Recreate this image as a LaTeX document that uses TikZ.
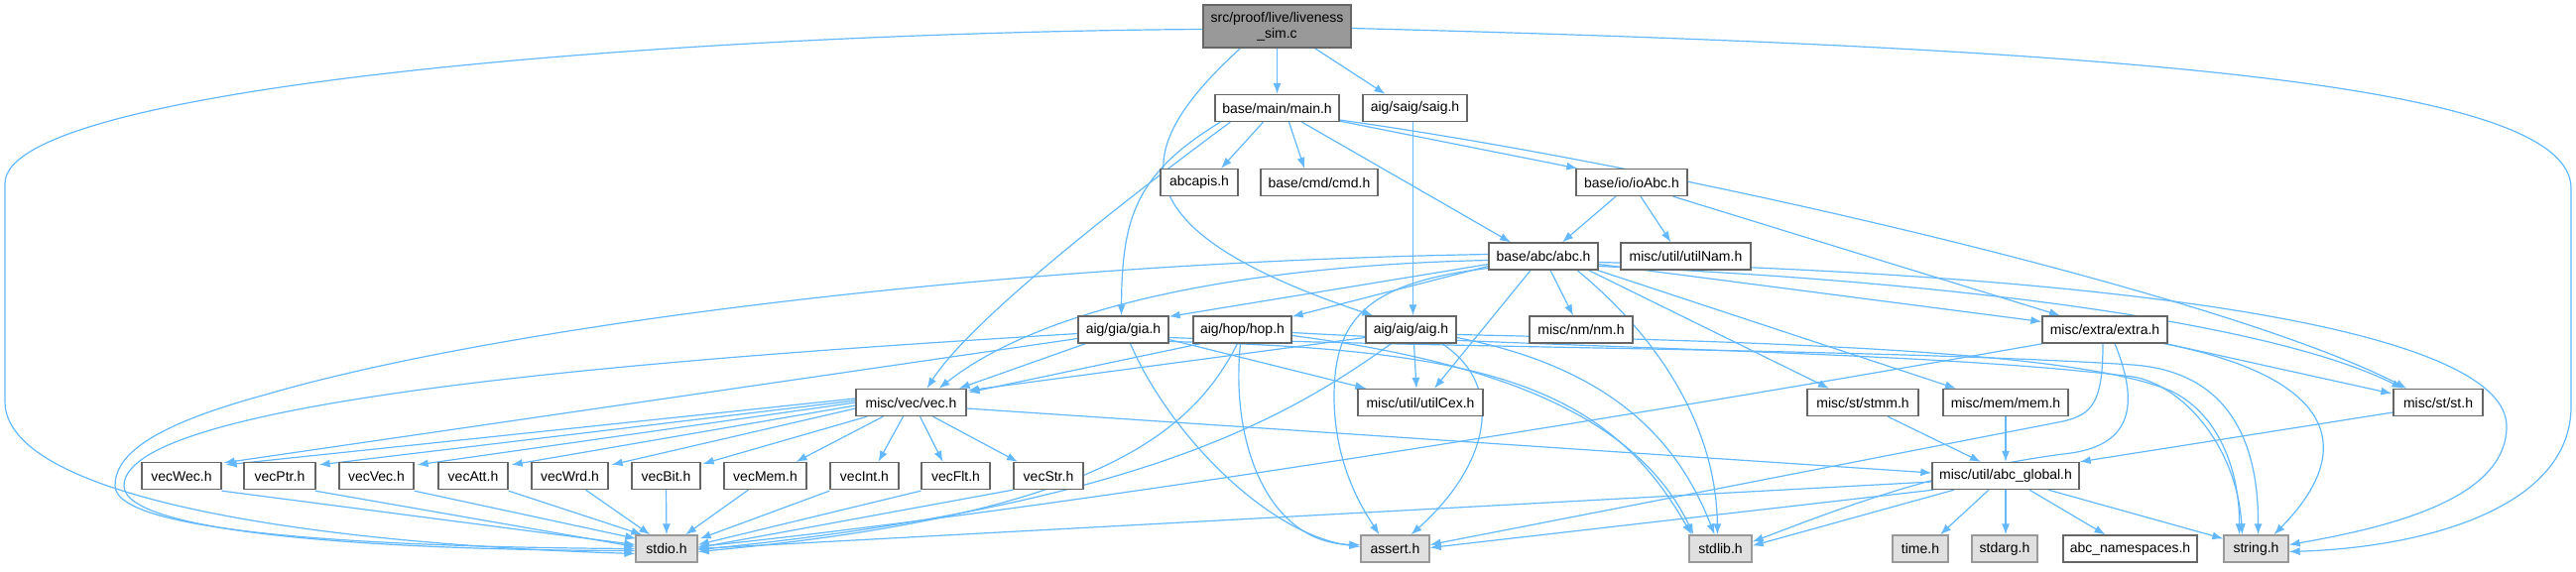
\documentclass[tikz,border=0pt]{standalone}
\usepackage{fontspec}
\setmainfont{Liberation Sans}
\usetikzlibrary{arrows.meta,calc}
\pgfdeclarelayer{bg}
\pgfsetlayers{bg,main}
\definecolor{edgec}{HTML}{63B8FF}
\definecolor{bordA}{HTML}{666666}
\definecolor{bordB}{HTML}{999999}
\definecolor{fillS}{HTML}{E0E0E0}
\definecolor{fillR}{HTML}{999999}
\begin{document}
\begin{tikzpicture}[x=1pt,y=-1pt,
  hdr/.style={draw=bordA, fill=white, line width=1.3pt, minimum height=27pt, inner sep=0pt, font=\fontsize{14}{16}\selectfont},
  sys/.style={hdr, draw=bordB, fill=fillS},
  lnk/.style={draw=edgec, line width=1.2pt, -{Latex[length=11pt,width=8pt]}},
]
\useasboundingbox (0,0) rectangle (2597,576);
% nodes
\node[hdr, fill=fillR, minimum width=149pt, minimum height=43pt, align=center] (root) at (1287.5,26.5) {src/proof/live/liveness\\\_sim.c};
\node[hdr, minimum width=125pt] (main) at (1287.5,109) {base/main/main.h};
\node[hdr, minimum width=105pt] (saig) at (1426.5,109) {aig/saig/saig.h};
\node[hdr, minimum width=78pt] (abcapis) at (1209,184) {abcapis.h};
\node[hdr, minimum width=118pt] (cmd) at (1330,184) {base/cmd/cmd.h};
\node[hdr, minimum width=112pt] (ioAbc) at (1645,184) {base/io/ioAbc.h};
\node[hdr, minimum width=110pt] (abc) at (1556,258.5) {base/abc/abc.h};
\node[hdr, minimum width=131pt] (utilNam) at (1699.5,258.5) {misc/util/utilNam.h};
\node[hdr, minimum width=91pt] (gia) at (1132.5,332.5) {aig/gia/gia.h};
\node[hdr, minimum width=99pt] (hop) at (1252.5,332.5) {aig/hop/hop.h};
\node[hdr, minimum width=91pt] (aig) at (1422.5,332.5) {aig/aig/aig.h};
\node[hdr, minimum width=104pt] (nm) at (1594,332.5) {misc/nm/nm.h};
\node[hdr, minimum width=126pt] (extra) at (2122,332.5) {misc/extra/extra.h};
\node[hdr, minimum width=111pt] (vec) at (918.5,406) {misc/vec/vec.h};
\node[hdr, minimum width=126pt] (utilCex) at (1432,406) {misc/util/utilCex.h};
\node[hdr, minimum width=112pt] (stmm) at (1878,406) {misc/st/stmm.h};
\node[hdr, minimum width=126pt] (mem) at (2022,406) {misc/mem/mem.h};
\node[hdr, minimum width=90pt] (st) at (2458,406) {misc/st/st.h};
\node[hdr, minimum width=80pt] (vecWec) at (183,480) {vecWec.h};
\node[hdr, minimum width=72pt] (vecPtr) at (282,480) {vecPtr.h};
\node[hdr, minimum width=75pt] (vecVec) at (379.5,480) {vecVec.h};
\node[hdr, minimum width=70pt] (vecAtt) at (477,480) {vecAtt.h};
\node[hdr, minimum width=77pt] (vecWrd) at (574.5,480) {vecWrd.h};
\node[hdr, minimum width=69pt] (vecBit) at (671.5,480) {vecBit.h};
\node[hdr, minimum width=83pt] (vecMem) at (771.5,480) {vecMem.h};
\node[hdr, minimum width=69pt] (vecInt) at (871.5,480) {vecInt.h};
\node[hdr, minimum width=69pt] (vecFlt) at (963.5,480) {vecFlt.h};
\node[hdr, minimum width=70pt] (vecStr) at (1057,480) {vecStr.h};
\node[hdr, minimum width=148pt] (abcglobal) at (2022,480) {misc/util/abc\_global.h};
\node[sys, minimum width=62pt] (stdio) at (672,553.5) {stdio.h};
\node[sys, minimum width=69pt] (assert) at (1406.5,553.5) {assert.h};
\node[sys, minimum width=63pt] (stdlib) at (1734.5,553.5) {stdlib.h};
\node[sys, minimum width=56pt] (time) at (1936,553.5) {time.h};
\node[sys, minimum width=66pt] (stdarg) at (2021,553.5) {stdarg.h};
\node[hdr, minimum width=135pt] (abcns) at (2147.5,553.5) {abc\_namespaces.h};
\node[sys, minimum width=65pt] (string) at (2274.5,553.5) {string.h};
\begin{pgfonlayer}{bg}
% root
\draw[lnk] ($(root.west)+(0,3)$) .. controls (700,33) and (5,85) .. (5,185) -- (5,405) .. controls (5,500) and (300,548) .. ($(stdio.west)+(0,5)$);
\draw[lnk] (root.south) -- (main.north);
\draw[lnk] ($(root.south)+(38,0)$) -- ($(saig.north)+(-30,0)$);
\draw[lnk] ($(root.south)+(-37,0)$) .. controls (1140,150) and (1120,230) .. ($(aig.north west)+(8,0)$);
\draw[lnk] ($(root.east)+(0,2)$) .. controls (2200,50) and (2592,90) .. (2592,190) -- (2592,410) .. controls (2592,510) and (2450,552) .. ($(string.east)+(0,3)$);
% main
\draw[lnk] ($(main.south)+(-14,0)$) -- ($(abcapis.north)+(22,0)$);
\draw[lnk] ($(main.south)+(12,0)$) -- ($(cmd.north)+(-15,0)$);
\draw[lnk] ($(main.south east)+(0,-1)$) -- ($(ioAbc.north west)+(2,0)$);
\draw[lnk] ($(main.south)+(25,0)$) -- ($(abc.north)+(-33,0)$);
\draw[lnk] ($(main.south west)+(6,0)$) .. controls (1145,175) and (1131,220) .. ($(gia.north)+(-2,0)$);
\draw[lnk] ($(main.south west)+(16,0)$) .. controls (1150,190) and (980,320) .. ($(vec.north)+(16,0)$);
\draw[lnk] ($(main.east)+(0,12)$) .. controls (1700,170) and (2250,300) .. ($(st.north west)+(14,0)$);
% saig
\draw[lnk] ($(saig.south)+(-2,0)$) -- ($(aig.north)+(2,0)$);
% ioAbc
\draw[lnk] ($(ioAbc.south)+(-16,0)$) -- ($(abc.north)+(19,0)$);
\draw[lnk] ($(ioAbc.south)+(9,0)$) -- ($(utilNam.north)+(-15,0)$);
\draw[lnk] ($(ioAbc.south east)+(-15,0)$) -- ($(extra.north)+(-45,0)$);
% abc
\draw[lnk] ($(abc.west)+(0,-2)$) .. controls (1000,265) and (500,330) .. (268,398) .. controls (150,430) and (116,460) .. (116,490) .. controls (116,540) and (400,552) .. ($(stdio.west)+(0,0)$);
\draw[lnk] ($(abc.west)+(0,4)$) .. controls (1250,268) and (1050,310) .. ($(vec.north east)+(-28,0)$);
\draw[lnk] ($(abc.west)+(0,8)$) -- ($(gia.north east)+(0,1)$);
\draw[lnk] ($(abc.west)+(0,10)$) -- ($(hop.north east)+(0,1)$);
\draw[lnk] ($(abc.west)+(0,12)$) .. controls (1380,285) and (1345,320) .. (1345,400) .. controls (1345,470) and (1375,515) .. ($(assert.north)+(-16,0)$);
\draw[lnk] ($(abc.south)+(-13,0)$) -- ($(utilCex.north)+(14,0)$);
\draw[lnk] ($(abc.south)+(7,0)$) -- ($(nm.north)+(-8,0)$);
\draw[lnk] ($(abc.south)+(34,0)$) .. controls (1660,330) and (1730,420) .. ($(stdlib.north)+(-3,0)$);
\draw[lnk] ($(abc.south east)+(-10,0)$) -- ($(stmm.north)+(-34,0)$);
\draw[lnk] ($(abc.south east)+(-1,0)$) -- ($(mem.north)+(-50,0)$);
\draw[lnk] ($(abc.east)+(0,8)$) -- ($(extra.west)+(0,-8)$);
\draw[lnk] ($(abc.east)+(0,10)$) .. controls (2000,285) and (2300,330) .. ($(st.north west)+(10,0)$);
\draw[lnk] ($(abc.east)+(0,6)$) .. controls (2200,280) and (2527,340) .. (2527,430) .. controls (2527,500) and (2420,530) .. ($(string.east)+(0,-4)$);
% gia
\draw[lnk] ($(gia.west)+(0,4)$) .. controls (700,360) and (125,400) .. (125,490) .. controls (125,540) and (400,555) .. ($(stdio.west)+(0,2)$);
\draw[lnk] ($(gia.west)+(0,9)$) -- ($(vecWec.north east)+(2,1)$);
\draw[lnk] ($(gia.south west)+(8,0)$) -- ($(vec.north east)+(-8,0)$);
\draw[lnk] ($(gia.east)+(0,10)$) -- ($(utilCex.north west)+(9,0)$);
\draw[lnk] ($(gia.south)+(7,0)$) .. controls (1180,440) and (1280,540) .. ($(assert.west)+(0,-2)$);
\draw[lnk] ($(gia.east)+(0,12)$) .. controls (1500,352) and (1620,390) .. ($(stdlib.north west)+(3,0)$);
\draw[lnk] ($(gia.east)+(0,8)$) .. controls (1500,352) and (1900,352) .. (2150,368) .. controls (2250,375) and (2277,450) .. ($(string.north)+(2,0)$);
% hop
\draw[lnk] ($(hop.south)+(-5,0)$) .. controls (1200,440) and (1100,520) .. ($(stdio.east)+(0,3)$);
\draw[lnk] ($(hop.south west)+(8,0)$) -- ($(vec.north east)+(2,4)$);
\draw[lnk] ($(hop.south)+(-2,0)$) .. controls (1240,450) and (1280,548) .. ($(assert.west)+(0,-4)$);
\draw[lnk] ($(hop.east)+(0,6)$) .. controls (1550,370) and (1660,440) .. ($(stdlib.north west)+(5,0)$);
\draw[lnk] ($(hop.east)+(0,3)$) .. controls (1600,352) and (1950,355) .. (2150,380) .. controls (2200,388) and (2255,450) .. ($(string.north)+(-14,0)$);
% aig
\draw[lnk] ($(aig.south)+(-20,0)$) .. controls (1300,420) and (1150,510) .. ($(stdio.east)+(0,1)$);
\draw[lnk] ($(aig.west)+(0,8)$) -- ($(vec.north east)+(1,2)$);
\draw[lnk] ($(aig.south)+(3,0)$) -- ($(utilCex.north)+(-4,0)$);
\draw[lnk] ($(aig.south east)+(-15,0)$) .. controls (1520,390) and (1500,470) .. ($(assert.north)+(16,0)$);
\draw[lnk] ($(aig.east)+(0,8)$) .. controls (1620,370) and (1690,440) .. ($(stdlib.north)+(-6,0)$);
\draw[lnk] ($(aig.east)+(0,5)$) .. controls (1800,345) and (2100,355) .. (2190,395) .. controls (2240,420) and (2258,480) .. ($(string.north)+(-17,0)$);
% extra
\draw[lnk] ($(extra.south west)+(1,0)$) .. controls (1700,410) and (1100,510) .. ($(stdio.east)+(0,-2)$);
\draw[lnk] ($(extra.south)+(-2,0)$) .. controls (2120,405) and (2110,418) .. (2080,425) -- ($(assert.east)+(0,-4)$);
\draw[lnk] ($(extra.south)+(10,0)$) .. controls (2162,420) and (2140,452) .. (2080,458) .. controls (1950,475) and (1850,515) .. ($(stdlib.east)+(0,-7)$);
\draw[lnk] ($(extra.south east)+(-2,0)$) -- ($(st.west)+(-1,-9)$);
\draw[lnk] ($(extra.south east)+(-4,0)$) .. controls (2350,380) and (2380,450) .. ($(string.north)+(18,0)$);
% vec
\draw[lnk] ($(vec.west)+(0,-4)$) -- ($(vecWec.north east)+(4,3)$);
\draw[lnk] ($(vec.west)+(0,-2)$) -- ($(vecPtr.north east)+(3,3)$);
\draw[lnk] ($(vec.west)+(0,0)$) -- ($(vecVec.north east)+(3,3)$);
\draw[lnk] ($(vec.west)+(0,3)$) -- ($(vecAtt.north east)+(3,3)$);
\draw[lnk] ($(vec.west)+(0,6)$) -- ($(vecWrd.north east)+(3,3)$);
\draw[lnk] ($(vec.south west)+(12,0)$) -- ($(vecBit.north east)+(2,2)$);
\draw[lnk] ($(vec.south west)+(28,0)$) -- ($(vecMem.north)+(31,0)$);
\draw[lnk] ($(vec.south)+(-8,0)$) -- ($(vecInt.north)+(14,0)$);
\draw[lnk] ($(vec.south)+(9,0)$) -- ($(vecFlt.north)+(-13,0)$);
\draw[lnk] ($(vec.south)+(22,0)$) -- ($(vecStr.north)+(-31,0)$);
\draw[lnk] ($(vec.east)+(0,6)$) -- ($(abcglobal.west)+(0,-3)$);
% vec children to stdio
\draw[lnk] ($(vecWec.south east)+(0,1)$) -- ($(stdio.west)+(0,-4)$);
\draw[lnk] ($(vecPtr.south east)+(-1,1)$) -- ($(stdio.west)+(0,-2)$);
\draw[lnk] ($(vecVec.south east)+(0,1)$) -- ($(stdio.north west)+(1,4)$);
\draw[lnk] ($(vecAtt.south east)+(0,1)$) -- ($(stdio.north west)+(7,0)$);
\draw[lnk] ($(vecWrd.south)+(16,0)$) -- ($(stdio.north west)+(15,0)$);
\draw[lnk] (vecBit.south) -- (stdio.north);
\draw[lnk] ($(vecMem.south)+(-17,0)$) -- ($(stdio.north)+(19,0)$);
\draw[lnk] ($(vecInt.south west)+(0,1)$) -- ($(stdio.north east)+(2,4)$);
\draw[lnk] ($(vecFlt.south west)+(0,1)$) -- ($(stdio.east)+(0,-4)$);
\draw[lnk] ($(vecStr.south west)+(0,0)$) -- ($(stdio.east)+(0,-1)$);
% stmm, mem, st
\draw[lnk] ($(stmm.south)+(25,0)$) -- ($(abcglobal.north)+(-25,0)$);
\draw[lnk] (mem.south) -- (abcglobal.north);
\draw[lnk] ($(st.west)+(0,10)$) -- ($(abcglobal.north east)+(0,0)$);
% abc_global
\draw[lnk] ($(abcglobal.west)+(0,6)$) -- ($(stdio.east)+(0,0)$);
\draw[lnk] ($(abcglobal.south west)+(2,0)$) -- ($(assert.east)+(0,-1)$);
\draw[lnk] ($(abcglobal.south)+(-52,0)$) -- ($(stdlib.east)+(0,-3)$);
\draw[lnk] ($(abcglobal.south)+(-17,0)$) -- ($(time.north)+(20,0)$);
\draw[lnk] (abcglobal.south) -- ($(stdarg.north)+(1,0)$);
\draw[lnk] ($(abcglobal.south)+(24,0)$) -- ($(abcns.north)+(-25,0)$);
\draw[lnk] ($(abcglobal.south)+(43,0)$) -- ($(string.north west)+(0,4)$);
\end{pgfonlayer}
\end{tikzpicture}
\end{document}
